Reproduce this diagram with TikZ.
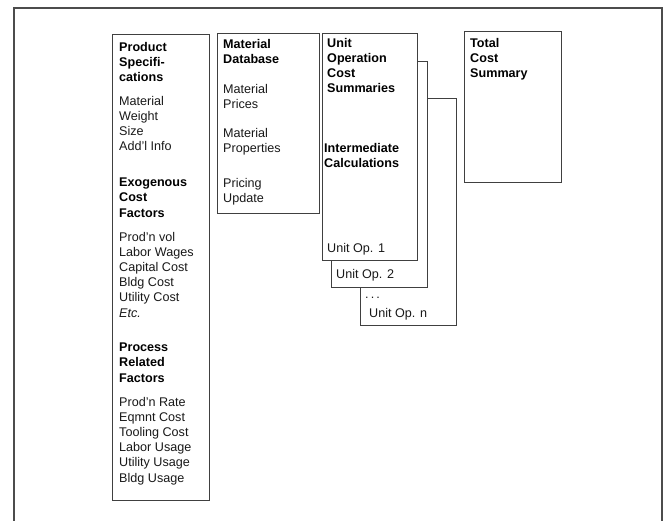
\documentclass[tikz,border=0pt]{standalone}
\usepackage{fontspec}
\setmainfont{Liberation Sans}
\begin{document}
\begin{tikzpicture}[x=1pt,y=-1pt,
  frameline/.style={draw=black!70, line width=1.8pt},
  box/.style={draw=black!75, line width=1.1pt, fill=white, inner sep=0pt,
    anchor=north west},
  % blocks are placed by the baseline of their last line
  txt/.style={anchor=base west, inner sep=0pt, align=left, text=black!90,
    font=\fontsize{12.6}{15.2}\selectfont},
  hd/.style={txt, text=black, font=\fontsize{12.6}{15.2}\selectfont\bfseries},
]
\useasboundingbox (0,0) rectangle (668,521);

% open outer frame (runs off the lower edge)
\draw[frameline] (14,521) -- (14,8) -- (662,8) -- (662,521);

% input boxes
\node[box, minimum width=97pt, minimum height=466pt] (spec) at (112,34) {};
\node[box, minimum width=102pt, minimum height=180pt] (matdb) at (217,33) {};

% stacked unit operation sheets, back to front
\node[box, minimum width=96pt, minimum height=227pt] (opn) at (360,98) {};
\node[box, minimum width=96pt, minimum height=226pt] (op2) at (331,61) {};
\node[box, minimum width=95pt, minimum height=227pt] (op1) at (322,33) {};

% summary box
\node[box, minimum width=97pt, minimum height=151pt] (total) at (464,31) {};

% product specification column
\node[hd]  (ps)   at (119,82)  {Product\\Specifi-\\cations};
\node[txt] (psi)  at (119,151) {Material\\Weight\\Size\\Add'l Info};
\node[hd]  (ex)   at (119,217) {Exogenous\\Cost\\Factors};
\node[txt] (exi)  at (119,317) {Prod'n vol\\Labor Wages\\Capital Cost\\Bldg Cost\\Utility Cost\\\textit{Etc.}};
\node[hd]  (pr)   at (119,382) {Process\\Related\\Factors};
\node[txt] (pri)  at (119,482) {Prod'n Rate\\Eqmnt Cost\\Tooling Cost\\Labor Usage\\Utility Usage\\Bldg Usage};

% material database column
\node[hd]  (md)   at (223,64)  {Material\\Database};
\node[txt] (mp)   at (223,109) {Material\\Prices};
\node[txt] (mpr)  at (223,153) {Material\\Properties};
\node[txt] (pu)   at (223,203) {Pricing\\Update};

% unit operation sheets
\node[hd]  (uocs) at (327,93)  {Unit\\Operation\\Cost\\Summaries};
\node[hd]  (ic)   at (324,168) {Intermediate\\Calculations};
\node[txt] (u1)   at (327,252) {Unit Op. 1};
\node[txt] (u2)   at (336,278) {Unit Op. 2};
\node[txt] (dots) at (365,298) {.\,.\,.};
\node[txt] (un)   at (369,317) {Unit Op. n};

% total cost summary
\node[hd]  (tcs)  at (470,78)  {Total\\Cost\\Summary};
\end{tikzpicture}
\end{document}
